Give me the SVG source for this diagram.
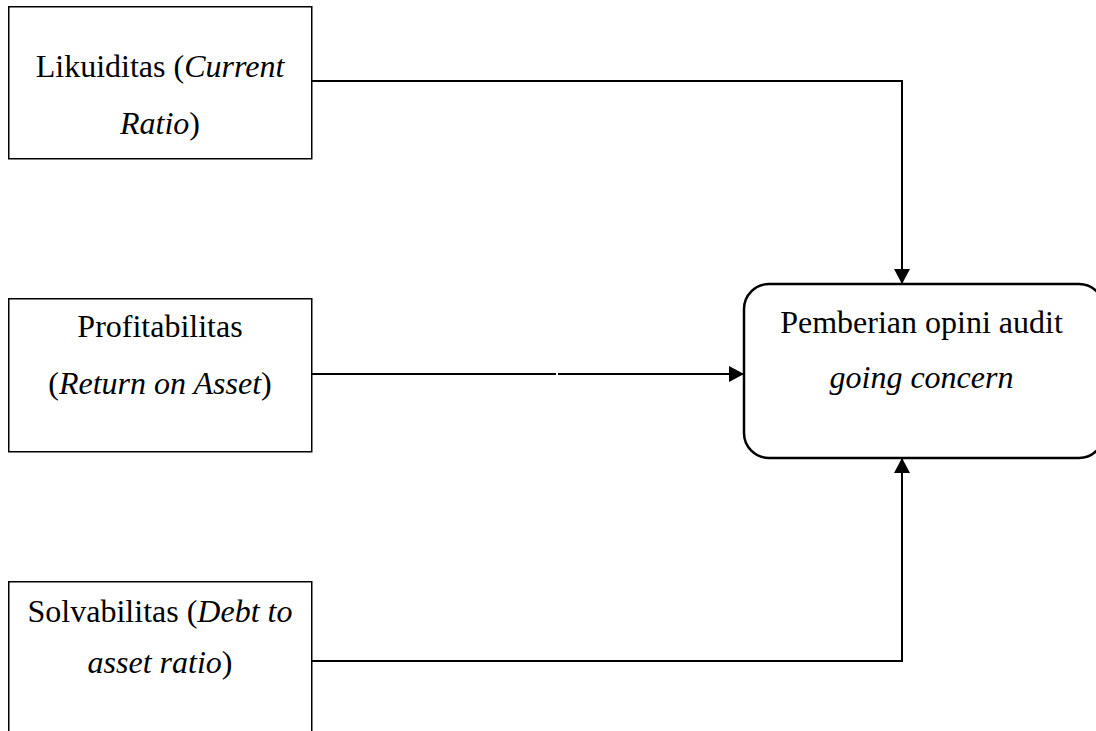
<svg xmlns="http://www.w3.org/2000/svg" width="1096" height="731" viewBox="0 0 1096 731">
<style>
.box{fill:#fff;stroke:#000;stroke-width:1.5}
.rbox{fill:#fff;stroke:#000;stroke-width:2.5}
.t{font-family:"Liberation Serif","Times New Roman",serif;font-size:32px;fill:#000;text-anchor:middle}
.i{font-style:italic}
.c{fill:none;stroke:#000;stroke-width:2}
</style>
<defs>
<marker id="ah" markerWidth="16" markerHeight="16" viewBox="0 0 16 16" refX="15" refY="8" orient="auto" markerUnits="userSpaceOnUse">
<path d="M0,0 L15,8 L0,16 Z" fill="#000"/>
</marker>
</defs>
<rect width="1096" height="731" fill="#fff"/>
<g id="connectors">
<path class="c" d="M312,81 H902 V284" marker-end="url(#ah)"/>
<path class="c" d="M312,374 H556"/>
<path class="c" d="M558,374 H744" marker-end="url(#ah)"/>
<path class="c" d="M312,661 H902 V458" marker-end="url(#ah)"/>
</g>
<g id="likuiditas">
<rect class="box" x="8.75" y="6.75" width="303" height="152"/>
<text class="t" x="160" y="77">Likuiditas (<tspan class="i">Current</tspan></text>
<text class="t" x="160" y="134"><tspan class="i">Ratio</tspan>)</text>
</g>
<g id="profitabilitas">
<rect class="box" x="8.75" y="298.75" width="303" height="153"/>
<text class="t" x="160" y="337">Profitabilitas</text>
<text class="t" x="160" y="394">(<tspan class="i">Return on Asset</tspan>)</text>
</g>
<g id="solvabilitas">
<rect class="box" x="8.75" y="581.75" width="303" height="160"/>
<text class="t" x="160" y="622">Solvabilitas (<tspan class="i">Debt to</tspan></text>
<text class="t" x="160" y="673"><tspan class="i">asset ratio</tspan>)</text>
</g>
<g id="opini">
<rect class="rbox" x="744" y="284" width="360" height="174" rx="25" ry="25"/>
<text class="t" x="921.5" y="333">Pemberian opini audit</text>
<text class="t i" x="921.5" y="388">going concern</text>
</g>
</svg>
